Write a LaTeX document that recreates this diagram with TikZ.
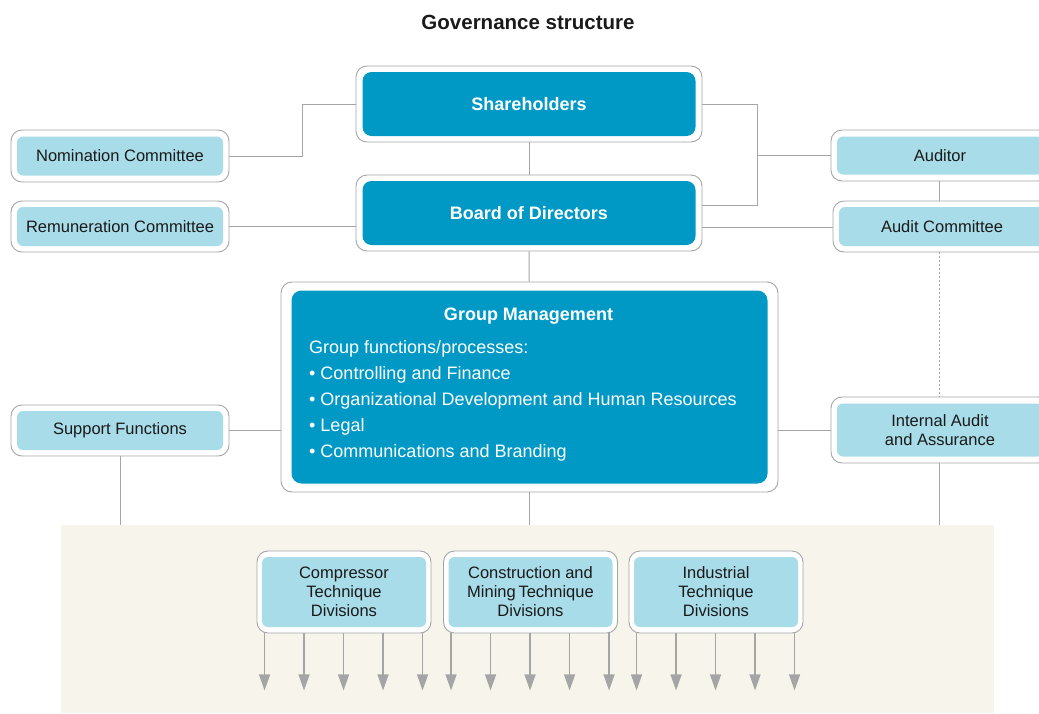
\documentclass[tikz,border=0pt]{standalone}
\usepackage{fontspec}
\setmainfont{Liberation Sans}
\usetikzlibrary{arrows.meta,positioning,calc}
\definecolor{acblue}{HTML}{0099C6}
\definecolor{aclight}{HTML}{A8DCE9}
\definecolor{acbeige}{HTML}{F7F4EC}
\definecolor{acgray}{HTML}{A5A5A5}
\definecolor{acink}{HTML}{1A1A1A}
\tikzset{
  frame/.style={draw=acgray, fill=white, rounded corners=11pt, inner sep=0pt,
                line width=0.9pt},
  hd/.style={fill=acblue, rounded corners=9pt, text=white, align=center,
             font=\fontsize{18}{21}\selectfont\bfseries,
             minimum width=333pt, minimum height=64pt},
  lt/.style={fill=aclight, rounded corners=6pt, text=acink, align=center,
             font=\fontsize{16.5}{19}\selectfont,
             minimum width=206pt, minimum height=39pt},
  dv/.style={lt, minimum width=164pt, minimum height=70pt},
  con/.style={draw=acgray, line width=1pt},
  arr/.style={-{Triangle[length=16pt,width=11pt]}, draw=acgray, fill=acgray,
              line width=1.2pt},
}

\begin{document}
\begin{tikzpicture}[x=1pt,y=1pt]
  \useasboundingbox (0,0) rectangle (1039,-713);
  \clip (0,0) rectangle (1039,-713);
  \node[font=\fontsize{20.5}{24}\selectfont\bfseries, text=acink] (title)
    at (528,-22) {Governance structure};
  \node[fill=acbeige, minimum width=933pt, minimum height=188pt] (bg)
    at (527.5,-619) {};
  % top row
  \node[frame, minimum width=346pt, minimum height=76pt] (sh) at (529,-104) {};
  \node[hd] (sh-in) at (sh) {Shareholders};
  \node[frame, minimum width=346pt, minimum height=76pt] (bd) at (529,-213) {};
  \node[hd] (bd-in) at (bd) {Board of Directors};
  \node[frame, minimum width=218pt, minimum height=52pt] (nom) at (120,-156) {};
  \node[lt] (nom-in) at (nom) {Nomination Committee};
  \node[frame, minimum width=218pt, minimum height=51pt] (rem) at (120,-226.5) {};
  \node[lt] (rem-in) at (rem) {Remuneration Committee};
  \node[frame, minimum width=218pt, minimum height=51pt] (aud) at (940,-155.5) {};
  \node[lt, minimum height=38pt] (aud-in) at (aud) {Auditor};
  \node[frame, minimum width=218pt, minimum height=51pt] (ac) at (942,-226.5) {};
  \node[lt] (ac-in) at (ac) {Audit Committee};
  % middle
  \node[frame, minimum width=497pt, minimum height=210pt] (gm) at (529.5,-387) {};
  \node[fill=acblue, rounded corners=10pt, minimum width=476pt,
        minimum height=193pt] (gm-in) at (gm) {};
  \node[text=white, font=\fontsize{18}{21}\selectfont\bfseries] (gm-hd)
    at (528.5,-316) {Group Management};
  \node[text=white, font=\fontsize{18}{26}\selectfont, align=left,
        anchor=north west, inner sep=0pt] (gm-list) at (309,-340)
    {Group functions/processes:\\
     •~Controlling and Finance\\
     •~Organizational Development and Human Resources\\
     •~Legal\\
     •~Communications and Branding};
  \node[frame, minimum width=218pt, minimum height=51pt] (sup) at (120,-430.5) {};
  \node[lt] (sup-in) at (sup) {Support Functions};
  \node[frame, minimum width=218pt, minimum height=66pt] (ia) at (940,-430) {};
  \node[lt, minimum height=53pt] (ia-in) at (ia) {Internal Audit\\and Assurance};
  % divisions
  \node[frame, minimum width=174pt, minimum height=82pt] (ctd) at (344,-592) {};
  \node[dv] (ctd-in) at (ctd) {Compressor\\Technique\\Divisions};
  \node[frame, minimum width=174pt, minimum height=82pt] (cmt) at (530.5,-592) {};
  \node[dv] (cmt-in) at (cmt) {Construction and\\Mining\,Technique\\Divisions};
  \node[frame, minimum width=174pt, minimum height=82pt] (itd) at (716,-592) {};
  \node[dv] (itd-in) at (itd) {Industrial\\Technique\\Divisions};
  % connectors
  \draw[con] (sh) -- (bd);
  \draw[con] (nom.east) -- ++(73,0) |- (sh.west);
  \draw[con] (rem) -- (rem -| bd.west);
  \draw[con] (sh.east) -- ++(55,0) coordinate (brk) |- ([yshift=8pt]bd.east);
  \draw[con] (aud) -- (aud -| brk);
  \draw[con] ([yshift=-14pt]bd.east) -- ([yshift=-14pt]bd.east -| ac.west);
  \draw[con] (aud.south -| 939,0) -- (ac.north -| 939,0);
  \draw[con, dash pattern=on 2pt off 2pt] (ac.south -| 939,0) -- (ia.north -| 939,0);
  \draw[con] (bd) -- (gm);
  \draw[con] (sup) -- (sup -| gm.west);
  \draw[con] (ia) -- (ia -| gm.east);
  \draw[con] (sup) -- (sup |- bg.north);
  \draw[con] (ia.south -| 939,0) -- (bg.north -| 939,0);
  \draw[con] (gm) -- (gm |- bg.north);
  \foreach \d in {ctd,cmt,itd}
    \foreach \i in {0,...,4}
      \draw[arr] ([xshift={8pt+39.5pt*\i}]\d.south west) -- ++(0,-57);
\end{tikzpicture}
\end{document}
